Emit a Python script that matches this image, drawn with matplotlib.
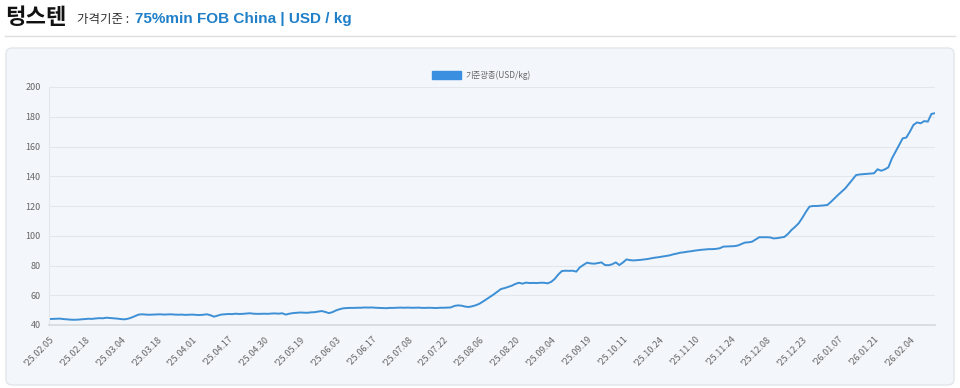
import numpy as np
import matplotlib
matplotlib.use("Agg")
from matplotlib import pyplot as plt
from matplotlib.patches import FancyBboxPatch, Rectangle
from matplotlib.transforms import IdentityTransform

plt.rcParams['font.family'] = ['Noto Sans CJK KR', 'DejaVu Sans']

# tick labels shown every 10 points
tick_labels = ["'25.02.05", "'25.02.18", "'25.03.04", "'25.03.18", "'25.04.01", "'25.04.17",
               "'25.04.30", "'25.05.19", "'25.06.03", "'25.06.17", "'25.07.08", "'25.07.22",
               "'25.08.06", "'25.08.20", "'25.09.04", "'25.09.19", "'25.10.11", "'25.10.24",
               "'25.11.10", "'25.11.24", "'25.12.08", "'25.12.23", "'26.01.07", "'26.01.21",
               "'26.02.04"]

# price (USD/kg)
prices = [
    44.0, 44.1, 44.2, 44.3, 44.0, 43.8, 43.6, 43.5, 43.6, 43.8,
    44.0, 44.2, 44.1, 44.4, 44.6, 44.5, 44.9, 44.7, 44.5, 44.3,
    44.0, 43.8, 44.2, 45.0, 46.0, 47.0, 47.2, 47.0, 46.9, 47.0,
    47.1, 47.2, 47.0, 47.1, 47.2, 47.0, 46.9, 47.0, 46.8, 46.9,
    47.0, 46.8, 46.7, 46.9, 47.2, 46.6, 45.6, 46.3, 47.0, 47.2,
    47.4, 47.3, 47.6, 47.4, 47.5, 47.7, 47.9, 47.6, 47.5, 47.5,
    47.6, 47.5, 47.7, 47.8, 47.6, 47.9, 47.0, 47.6, 48.0, 48.2,
    48.4, 48.3, 48.2, 48.5, 48.6, 49.0, 49.4, 48.8, 48.0, 48.6,
    49.8, 50.6, 51.2, 51.4, 51.5, 51.5, 51.6, 51.6, 51.8, 51.7,
    51.8, 51.6, 51.5, 51.4, 51.3, 51.5, 51.5, 51.6, 51.7, 51.6,
    51.7, 51.6, 51.6, 51.7, 51.5, 51.5, 51.6, 51.5, 51.4, 51.6,
    51.6, 51.7, 51.8, 52.8, 53.2, 53.0, 52.4, 52.1, 52.6, 53.3,
    54.3, 55.8, 57.4, 59.0, 60.6, 62.4, 64.2, 64.8, 65.6, 66.4,
    67.6, 68.4, 67.8, 68.5, 68.2, 68.3, 68.2, 68.4, 68.4, 68.0,
    69.0, 71.0, 74.0, 76.3, 76.5, 76.4, 76.5, 75.9, 78.8, 80.4,
    81.9, 81.4, 81.2, 81.6, 82.1, 80.3, 80.2, 80.8, 82.1, 80.3,
    82.0, 84.1, 83.6, 83.4, 83.6, 83.8, 84.1, 84.4, 84.9, 85.3,
    85.6, 86.0, 86.4, 86.8, 87.5, 88.0, 88.6, 88.9, 89.3, 89.6,
    90.0, 90.3, 90.6, 90.8, 91.0, 91.0, 91.2, 91.6, 92.7, 92.8,
    92.9, 93.0, 93.4, 94.4, 95.4, 95.6, 96.0, 97.5, 99.0, 99.0,
    99.0, 98.9, 98.2, 98.4, 98.8, 99.2, 101.2, 103.9, 106.0, 108.4,
    112.0, 116.0, 119.6, 120.0, 120.0, 120.2, 120.4, 120.7, 122.8, 125.2,
    127.5, 129.7, 131.9, 134.8, 137.8, 140.8, 141.2, 141.4, 141.6, 141.8,
    142.0, 144.7, 143.7, 144.6, 146.0, 152.0, 156.5, 161.0, 165.5, 166.0,
    170.0, 174.5, 176.2, 175.6, 177.1, 176.7, 181.9, 182.4,
]

W, H = 960, 388
fig = plt.figure(figsize=(W / 100, H / 100), dpi=100)
fig.patch.set_facecolor("white")

# header
fig.text(5 / W, 1 - 17 / H, "텅스텐", fontsize=16, fontweight="bold", color="#111111", va="center")
fig.text(77 / W, 1 - 19 / H, "가격기준 :", fontsize=9, color="#333333", va="center")
fig.text(135 / W, 1 - 19 / H, "75%min FOB China | USD / kg", fontsize=11, fontweight="bold",
         color="#1f7fc8", va="center", family="Liberation Sans")
fig.add_artist(plt.Line2D([5 / W, 955 / W], [1 - 36 / H, 1 - 36 / H], color="#dddddd", lw=1))

# panel behind the chart
panel = FancyBboxPatch((6, 3), 948, 337, boxstyle="round,pad=0,rounding_size=6",
                       transform=IdentityTransform(), facecolor="#f3f6fa", edgecolor="#e2e5e9",
                       lw=1, zorder=-5)
fig.add_artist(panel)

ax = fig.add_axes([49 / W, 1 - 325 / H, (935 - 49) / W, (325 - 87) / H])
ax.patch.set_alpha(0)
x = np.arange(len(prices))
ax.plot(x, prices, color="#3d8fd6", lw=1.4)

ax.set_xlim(0, len(prices) - 1)
ax.set_ylim(40, 200)
ax.set_yticks(range(40, 201, 20))
ax.tick_params(axis="y", length=0, labelsize=6.5, labelcolor="#666666", pad=6)
ax.set_xticks(x[::10][:len(tick_labels)])
ax.set_xticklabels(tick_labels, rotation=45, ha="right", rotation_mode="anchor")
ax.tick_params(axis="x", length=0, labelsize=6.5, labelcolor="#666666", pad=7)
ax.grid(axis="y", color="#e3e6ea", lw=0.8)
for s in ["top", "right"]:
    ax.spines[s].set_visible(False)
ax.spines["left"].set_color("#e3e6ea")
ax.spines["bottom"].set_color("#d6d9dd")
ax.spines["bottom"].set_linewidth(1.2)

# legend
fig.add_artist(Rectangle((432, H - 79), 29, 8, transform=IdentityTransform(),
                         facecolor="#3a8fe0", edgecolor="#3a8fe0"))
fig.text(465 / W, 1 - 75 / H, "기준광종(USD/kg)", fontsize=6, color="#666666", va="center")

fig.savefig("out.png", dpi=100)
